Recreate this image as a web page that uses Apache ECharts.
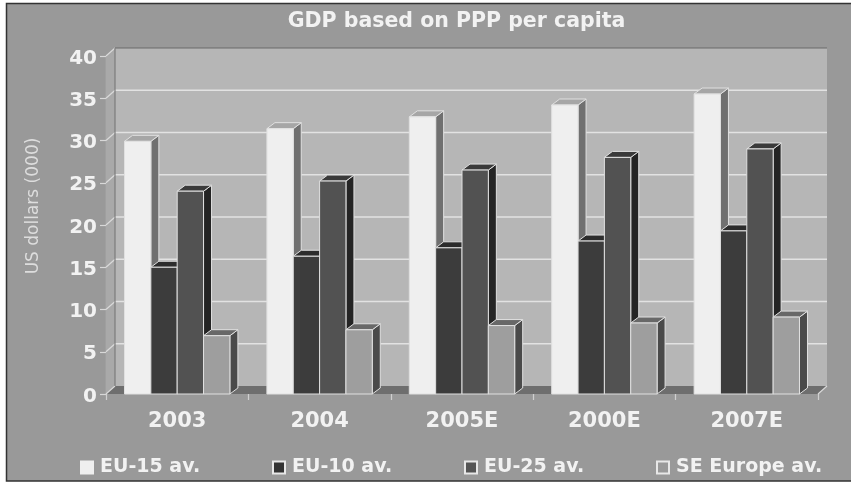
<!DOCTYPE html>
<html><head><meta charset="utf-8">
<style>html,body{margin:0;padding:0;background:#fff}#c{width:851px;height:482px}</style>
<script src="https://cdn.jsdelivr.net/npm/echarts@6/dist/echarts.min.js"></script>
</head><body><div id="c"></div>
<script>
const categories = ['2003','2004','2005E','2000E','2007E'];
const eu15 = [29.9,31.4,32.8,34.2,35.5];
const eu10 = [15.0,16.3,17.3,18.1,19.3];
const eu25 = [24.0,25.2,26.5,28.0,29.0];
const seEurope = [6.9,7.6,8.1,8.4,9.1];
const seriesNames = ['EU-15 av.','EU-10 av.','EU-25 av.','SE Europe av.'];
const seriesValues = [eu15,eu10,eu25,seEurope];
const gridTicks = [0,5,10,15,20,25,30,35,40];
const FONT = '"DejaVu Sans"';
const faces = [
  {front:'#efefef', top:'#a6a6a6', side:'#707070'},
  {front:'#3c3c3c', top:'#2c2c2c', side:'#1e1e1e'},
  {front:'#525252', top:'#3a3a3a', side:'#242424'},
  {front:'#9e9e9e', top:'#686868', side:'#4a4a4a'}
];
const EDGE = '#e0e0e0';
const WALL_DX = 9, WALL_DY = 8, BAR_DX = 8, BAR_DY = 6;

function poly(points, fill, stroke, lw){
  return {type:'polygon', shape:{points}, style:{fill, stroke:stroke||null, lineWidth:lw||0}};
}
function line(x1,y1,x2,y2,stroke,lw){
  return {type:'line', shape:{x1,y1,x2,y2}, style:{stroke, lineWidth:lw||1.5}};
}
function renderWalls(params, api){
  const r = params.coordSys, x0=r.x, x1=r.x+r.width, yb=r.y+r.height, yt=r.y;
  const kids = [
    poly([[x0+WALL_DX,yt-WALL_DY],[x1+WALL_DX,yt-WALL_DY],[x1+WALL_DX,yb-WALL_DY],[x0+WALL_DX,yb-WALL_DY]],'#b6b6b6'),
    poly([[x0,yt],[x0+WALL_DX,yt-WALL_DY],[x0+WALL_DX,yb-WALL_DY],[x0,yb]],'#a9a9a9'),
    poly([[x0,yb],[x0+WALL_DX,yb-WALL_DY],[x1+WALL_DX,yb-WALL_DY],[x1,yb]],'#6e6e6e')
  ];
  gridTicks.forEach(v=>{
    const y = api.coord([0,v])[1];
    if(v>0 && v<40) kids.push(line(x0+WALL_DX,y-WALL_DY,x1+WALL_DX,y-WALL_DY,'#e2e2e2',1.5));
    kids.push(line(x0,y,x0+WALL_DX,y-WALL_DY,'#dadada',1.2));
  });
  kids.push(line(x0+WALL_DX,yt-WALL_DY,x1+WALL_DX,yt-WALL_DY,'#6a6a6a',1.2));
  kids.push(line(x0+WALL_DX,yt-WALL_DY,x0+WALL_DX,yb-WALL_DY,'#7c7c7c',1.2));
  kids.push(line(x1,yb,x1+WALL_DX,yb-WALL_DY,'#dadada',1.2));
  return {type:'group', children:kids};
}
function makeBarRenderer(si){
  return function(params, api){
    const cx = api.coord([api.value(0),0])[0];
    const yb = api.coord([0,0])[1];
    const yv = api.coord([0,api.value(1)])[1];
    const band = api.size([1,0])[0];
    const w = band*0.185;
    const x = cx-2*w+si*w, xr = x+w, f = faces[si];
    return {type:'group', children:[
      poly([[xr,yb],[xr+BAR_DX,yb-BAR_DY],[xr+BAR_DX,yv-BAR_DY],[xr,yv]], f.side, EDGE, 1),
      poly([[x,yv],[x+BAR_DX,yv-BAR_DY],[xr+BAR_DX,yv-BAR_DY],[xr,yv]], f.top, EDGE, 1),
      poly([[x,yb],[x,yv],[xr,yv],[xr,yb]], f.front, EDGE, 1)
    ]};
  };
}
const swatches = [
  {color:'#efefef',borderColor:'#efefef'},
  {color:'#333333',borderColor:'#e8e8e8'},
  {color:'#555555',borderColor:'#e8e8e8'},
  {color:'#999999',borderColor:'#e8e8e8'}
];
const legendLeft = [80,272,464,656];
const chart = echarts.init(document.getElementById('c'),null,{renderer:'canvas'});
chart.setOption({
  animation:false,
  backgroundColor:'#ffffff',
  graphic:[{type:'rect',silent:true,z:0,shape:{x:6.5,y:3.5,width:850,height:477.5},style:{fill:'#999999',stroke:'#333333',lineWidth:1.5}}],
  title:{text:'GDP based on PPP per capita',left:451.5,top:6,textAlign:'center',
    textStyle:{fontFamily:FONT,fontWeight:'bold',fontSize:20.5,color:'#f2f2f2'}},
  grid:{left:106,right:33,top:56,bottom:88},
  xAxis:{type:'category',data:categories,
    axisLine:{show:false},
    axisTick:{show:true,length:6,lineStyle:{color:'#cfcfcf',width:1.2}},
    axisLabel:{margin:17,fontFamily:FONT,fontWeight:'bold',fontSize:21,color:'#f2f2f2'}},
  yAxis:{type:'value',min:0,max:40,interval:5,
    name:'US dollars (000)',nameLocation:'middle',nameGap:64,nameRotate:90,
    nameTextStyle:{fontFamily:FONT,fontSize:17,color:'#dddddd',padding:[0,0,0,38]},
    splitLine:{show:false},
    axisLine:{show:true,lineStyle:{color:'#d8d8d8',width:1.2}},
    axisTick:{show:true,length:6,lineStyle:{color:'#d8d8d8',width:1.2}},
    axisLabel:{margin:9,formatter:v=>'{n|'+v+'}',
      rich:{n:{fontFamily:FONT,fontWeight:'bold',fontSize:20,color:'#f2f2f2',padding:[5,0,0,0]}}}},
  legend:seriesNames.map((n,i)=>({
    data:[n],left:legendLeft[i],top:458,padding:0,itemWidth:12,itemHeight:12,itemGap:0,
    icon:'rect',itemStyle:swatches[i],
    textStyle:{fontFamily:FONT,fontWeight:'bold',fontSize:19,color:'#f2f2f2',padding:[0,0,0,2]}
  })),
  series:[
    {type:'custom',name:'walls',silent:true,z:1,renderItem:renderWalls,data:[[0,0]],encode:{x:0,y:1}},
    ...seriesNames.map((n,i)=>({
      type:'custom',name:n,z:2+i,renderItem:makeBarRenderer(i),
      itemStyle:{color:swatches[i].color,borderColor:swatches[i].borderColor,borderWidth:1},
      encode:{x:0,y:1},
      data:seriesValues[i].map((v,k)=>[k,v])
    }))
  ]
});
</script></body></html>
